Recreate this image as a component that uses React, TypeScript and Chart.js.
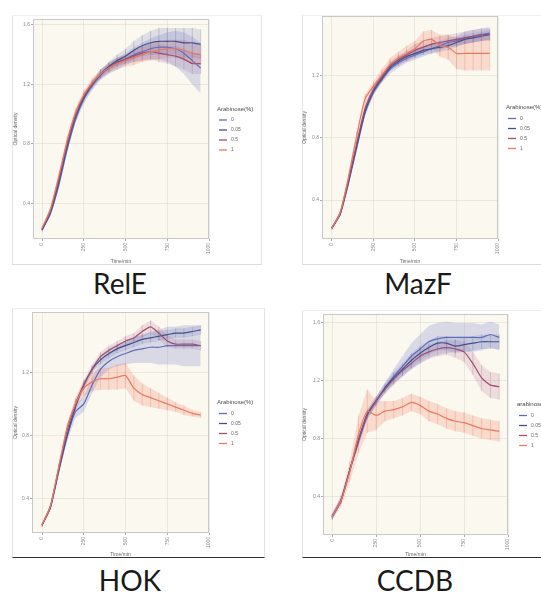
import React, { useEffect, useRef } from "react";
import { Chart, registerables } from "chart.js";
Chart.register(...registerables);

const TIME = [0, 50, 100, 150, 200, 250, 300, 350, 400, 450, 500, 550, 600, 650, 700, 750, 800, 850, 900, 950];
const X_TICKS = [0, 250, 500, 750, 1000];
const Y_TICKS = [0.4, 0.8, 1.2, 1.6];
const LEVELS = ["0", "0.05", "0.5", "1"];
const LINE_COLORS = ["#5f6db8", "#434f8a", "#a04d70", "#e8795f"];
const BAND_COLORS = ["rgba(110,122,200,0.24)", "rgba(95,105,170,0.18)", "rgba(170,95,135,0.18)", "rgba(242,135,112,0.26)"];
const BAR_COLORS = ["rgba(95,109,184,0.35)", "rgba(67,79,138,0.3)", "rgba(160,77,112,0.3)", "rgba(232,121,95,0.4)"];

// RelE
const RELE_0 = [0.22, 0.33, 0.52, 0.76, 0.96, 1.10, 1.19, 1.26, 1.31, 1.34, 1.37, 1.40, 1.42, 1.44, 1.45, 1.45, 1.44, 1.41, 1.36, 1.31];
const RELE_005 = [0.22, 0.34, 0.54, 0.78, 0.98, 1.11, 1.20, 1.27, 1.32, 1.36, 1.39, 1.43, 1.46, 1.48, 1.49, 1.49, 1.49, 1.48, 1.48, 1.47];
const RELE_05 = [0.23, 0.35, 0.56, 0.80, 0.99, 1.12, 1.20, 1.27, 1.31, 1.35, 1.37, 1.39, 1.41, 1.42, 1.41, 1.40, 1.39, 1.37, 1.34, 1.34];
const RELE_1 = [0.23, 0.36, 0.58, 0.82, 1.01, 1.13, 1.21, 1.27, 1.31, 1.34, 1.36, 1.38, 1.40, 1.42, 1.43, 1.44, 1.44, 1.43, 1.41, 1.40];
const RELE_0_ERR = [0.01, 0.02, 0.02, 0.02, 0.02, 0.03, 0.03, 0.03, 0.04, 0.04, 0.04, 0.05, 0.06, 0.07, 0.08, 0.10, 0.12, 0.14, 0.16, 0.17];
const RELE_005_ERR = [0.01, 0.01, 0.02, 0.02, 0.02, 0.03, 0.03, 0.03, 0.03, 0.04, 0.05, 0.06, 0.07, 0.08, 0.09, 0.09, 0.09, 0.10, 0.10, 0.10];
const RELE_05_ERR = [0.01, 0.01, 0.02, 0.02, 0.02, 0.02, 0.02, 0.03, 0.03, 0.03, 0.03, 0.04, 0.05, 0.05, 0.06, 0.06, 0.07, 0.07, 0.07, 0.07];
const RELE_1_ERR = [0.01, 0.01, 0.02, 0.03, 0.03, 0.03, 0.03, 0.03, 0.03, 0.04, 0.04, 0.05, 0.05, 0.06, 0.06, 0.06, 0.06, 0.07, 0.07, 0.07];

// MazF
const MAZF_0 = [0.22, 0.31, 0.51, 0.74, 0.96, 1.09, 1.17, 1.24, 1.28, 1.31, 1.33, 1.35, 1.37, 1.39, 1.41, 1.42, 1.44, 1.45, 1.46, 1.47];
const MAZF_005 = [0.22, 0.31, 0.52, 0.75, 0.97, 1.10, 1.18, 1.25, 1.29, 1.32, 1.34, 1.36, 1.37, 1.38, 1.39, 1.41, 1.43, 1.44, 1.45, 1.46];
const MAZF_05 = [0.22, 0.32, 0.53, 0.77, 0.99, 1.11, 1.19, 1.26, 1.30, 1.33, 1.36, 1.38, 1.40, 1.41, 1.42, 1.43, 1.44, 1.45, 1.46, 1.46];
const MAZF_1 = [0.22, 0.32, 0.55, 0.82, 1.05, 1.13, 1.20, 1.27, 1.31, 1.34, 1.37, 1.42, 1.43, 1.39, 1.38, 1.34, 1.34, 1.34, 1.34, 1.34];
const MAZF_0_ERR = [0.01, 0.01, 0.02, 0.02, 0.02, 0.02, 0.02, 0.03, 0.03, 0.03, 0.03, 0.03, 0.03, 0.03, 0.03, 0.03, 0.04, 0.04, 0.04, 0.04];
const MAZF_005_ERR = [0.01, 0.01, 0.02, 0.02, 0.02, 0.02, 0.02, 0.02, 0.03, 0.03, 0.03, 0.03, 0.03, 0.03, 0.03, 0.03, 0.03, 0.03, 0.03, 0.03];
const MAZF_05_ERR = [0.01, 0.01, 0.02, 0.02, 0.02, 0.03, 0.03, 0.03, 0.03, 0.03, 0.04, 0.04, 0.04, 0.04, 0.04, 0.04, 0.04, 0.04, 0.04, 0.04];
const MAZF_1_ERR = [0.01, 0.01, 0.02, 0.02, 0.03, 0.03, 0.04, 0.04, 0.04, 0.05, 0.05, 0.06, 0.06, 0.07, 0.08, 0.10, 0.11, 0.11, 0.11, 0.11];

// HOK
const HOK_0 = [0.23, 0.34, 0.57, 0.79, 0.95, 1.00, 1.12, 1.22, 1.27, 1.30, 1.32, 1.34, 1.35, 1.36, 1.36, 1.37, 1.37, 1.37, 1.37, 1.37];
const HOK_005 = [0.23, 0.34, 0.58, 0.80, 0.98, 1.12, 1.22, 1.28, 1.32, 1.35, 1.37, 1.39, 1.41, 1.42, 1.43, 1.44, 1.45, 1.45, 1.46, 1.47];
const HOK_05 = [0.23, 0.35, 0.59, 0.83, 1.00, 1.12, 1.22, 1.30, 1.34, 1.37, 1.40, 1.42, 1.46, 1.49, 1.45, 1.40, 1.38, 1.38, 1.38, 1.37];
const HOK_1 = [0.23, 0.35, 0.60, 0.85, 1.00, 1.10, 1.14, 1.16, 1.16, 1.17, 1.18, 1.10, 1.06, 1.04, 1.02, 1.00, 0.98, 0.96, 0.94, 0.93];
const HOK_0_ERR = [0.01, 0.01, 0.02, 0.03, 0.04, 0.05, 0.05, 0.05, 0.05, 0.06, 0.07, 0.08, 0.09, 0.10, 0.11, 0.12, 0.12, 0.13, 0.13, 0.13];
const HOK_005_ERR = [0.01, 0.01, 0.02, 0.02, 0.02, 0.02, 0.02, 0.03, 0.03, 0.03, 0.03, 0.03, 0.03, 0.03, 0.03, 0.03, 0.03, 0.03, 0.03, 0.03];
const HOK_05_ERR = [0.01, 0.01, 0.02, 0.02, 0.03, 0.03, 0.03, 0.03, 0.03, 0.03, 0.03, 0.03, 0.04, 0.04, 0.04, 0.04, 0.03, 0.03, 0.03, 0.03];
const HOK_1_ERR = [0.01, 0.01, 0.02, 0.03, 0.04, 0.05, 0.06, 0.07, 0.07, 0.08, 0.08, 0.08, 0.07, 0.06, 0.05, 0.04, 0.03, 0.03, 0.02, 0.02];

// CCDB
const CCDB_0 = [0.26, 0.37, 0.58, 0.78, 0.96, 1.06, 1.15, 1.23, 1.30, 1.37, 1.42, 1.47, 1.49, 1.50, 1.50, 1.50, 1.50, 1.50, 1.52, 1.50];
const CCDB_005 = [0.26, 0.37, 0.58, 0.79, 0.97, 1.06, 1.15, 1.22, 1.28, 1.34, 1.39, 1.43, 1.46, 1.46, 1.44, 1.45, 1.46, 1.47, 1.47, 1.47];
const CCDB_05 = [0.26, 0.37, 0.58, 0.79, 0.97, 1.06, 1.14, 1.21, 1.27, 1.32, 1.37, 1.40, 1.42, 1.43, 1.42, 1.40, 1.32, 1.22, 1.17, 1.16];
const CCDB_1 = [0.26, 0.37, 0.57, 0.83, 0.99, 0.96, 0.99, 1.00, 1.02, 1.05, 1.03, 0.99, 0.97, 0.94, 0.92, 0.91, 0.89, 0.87, 0.86, 0.85];
const CCDB_0_ERR = [0.02, 0.02, 0.02, 0.03, 0.03, 0.03, 0.04, 0.05, 0.07, 0.09, 0.10, 0.11, 0.11, 0.11, 0.10, 0.10, 0.10, 0.09, 0.09, 0.09];
const CCDB_005_ERR = [0.02, 0.02, 0.02, 0.03, 0.03, 0.03, 0.03, 0.04, 0.04, 0.05, 0.05, 0.05, 0.05, 0.05, 0.05, 0.05, 0.05, 0.05, 0.05, 0.05];
const CCDB_05_ERR = [0.02, 0.02, 0.02, 0.03, 0.03, 0.03, 0.03, 0.04, 0.04, 0.04, 0.05, 0.05, 0.05, 0.05, 0.06, 0.07, 0.08, 0.09, 0.09, 0.09];
const CCDB_1_ERR = [0.02, 0.04, 0.07, 0.13, 0.15, 0.10, 0.07, 0.06, 0.06, 0.06, 0.06, 0.07, 0.07, 0.07, 0.07, 0.07, 0.07, 0.07, 0.07, 0.07];

type PanelSpec = {
  name: string;
  legendTitle: string;
  values: number[][];
  errors: number[][];
  xMin: number;
  yMin: number;
  yMax: number;
  box: { left: number; top: number; width: number; height: number };
  area: { left: number; top: number; right: number; bottom: number };
  frame: { left: number; top: number; width: number; height: number; bottomDark: boolean };
  titlePos: { x: number; y: number };
};

const PANELS: PanelSpec[] = [
  {
    name: "RelE", legendTitle: "Arabinose(%)",
    values: [RELE_0, RELE_005, RELE_05, RELE_1], errors: [RELE_0_ERR, RELE_005_ERR, RELE_05_ERR, RELE_1_ERR],
    xMin: -54, yMin: 0.16, yMax: 1.64,
    box: { left: 13, top: 15, width: 249, height: 250 },
    area: { left: 33, top: 17, right: 209, bottom: 239 },
    frame: { left: 12, top: 15, width: 250, height: 250, bottomDark: false },
    titlePos: { x: 120, y: 283 },
  },
  {
    name: "MazF", legendTitle: "Arabinose(%)",
    values: [MAZF_0, MAZF_005, MAZF_05, MAZF_1], errors: [MAZF_0_ERR, MAZF_005_ERR, MAZF_05_ERR, MAZF_1_ERR],
    xMin: -60, yMin: 0.15, yMax: 1.58,
    box: { left: 302, top: 12, width: 270, height: 253 },
    area: { left: 322, top: 14, right: 498, bottom: 239 },
    frame: { left: 302, top: 15, width: 260, height: 250, bottomDark: false },
    titlePos: { x: 418, y: 283 },
  },
  {
    name: "HOK", legendTitle: "Arabinose(%)",
    values: [HOK_0, HOK_005, HOK_05, HOK_1], errors: [HOK_0_ERR, HOK_005_ERR, HOK_05_ERR, HOK_1_ERR],
    xMin: -60, yMin: 0.18, yMax: 1.584,
    box: { left: 13, top: 308, width: 252, height: 250 },
    area: { left: 32, top: 310, right: 209, bottom: 533 },
    frame: { left: 12, top: 308, width: 253, height: 250, bottomDark: true },
    titlePos: { x: 130, y: 580 },
  },
  {
    name: "CCDB", legendTitle: "arabinose(%)",
    values: [CCDB_0, CCDB_005, CCDB_05, CCDB_1], errors: [CCDB_0_ERR, CCDB_005_ERR, CCDB_05_ERR, CCDB_1_ERR],
    xMin: -52, yMin: 0.133, yMax: 1.662,
    box: { left: 302, top: 310, width: 270, height: 248 },
    area: { left: 323, top: 312, right: 508, bottom: 535 },
    frame: { left: 302, top: 310, width: 260, height: 248, bottomDark: true },
    titlePos: { x: 415, y: 580 },
  },
];

const FONT_FAMILY = "'Liberation Sans', Arial, sans-serif";
const SMALL_FONT = { size: 5, family: FONT_FAMILY };

const plotFrame = {
  id: "plotFrame",
  beforeDraw(chart: any) {
    const { ctx, chartArea: a } = chart;
    ctx.save();
    ctx.fillStyle = "#fbf8ef";
    ctx.fillRect(a.left, a.top, a.right - a.left, a.bottom - a.top);
    ctx.restore();
  },
  afterDraw(chart: any) {
    const { ctx, chartArea: a } = chart;
    ctx.save();
    ctx.strokeStyle = "#c9c9c9";
    ctx.lineWidth = 1;
    ctx.strokeRect(a.left + 0.5, a.top + 0.5, a.right - a.left - 1, a.bottom - a.top - 1);
    ctx.restore();
  },
};

// vertical error bars between each band's upper and lower dataset, placed by the scales
const errorBars = {
  id: "errorBars",
  beforeDatasetsDraw(chart: any) {
    const { ctx, chartArea: a } = chart;
    const xs = chart.scales.x;
    const ys = chart.scales.y;
    ctx.save();
    ctx.beginPath();
    ctx.rect(a.left, a.top, a.right - a.left, a.bottom - a.top);
    ctx.clip();
    chart.data.datasets.forEach((d: any) => {
      if (!d.barPair) return;
      const upper = chart.data.datasets[d.barPair];
      ctx.strokeStyle = d.barColor;
      ctx.lineWidth = 0.8;
      d.data.forEach((p: any, i: number) => {
        const x = xs.getPixelForValue(p.x);
        ctx.beginPath();
        ctx.moveTo(x, ys.getPixelForValue(p.y));
        ctx.lineTo(x, ys.getPixelForValue(upper.data[i].y));
        ctx.stroke();
      });
    });
    ctx.restore();
  },
};

// ggplot-like legend placed just to the right of the plot panel
const sideLegend = {
  id: "sideLegend",
  afterDraw(chart: any, _args: any, opts: any) {
    const { ctx, chartArea: a } = chart;
    const x0 = a.right + (opts.gap || 8);
    const cy = (a.top + a.bottom) / 2;
    ctx.save();
    ctx.textBaseline = "middle";
    ctx.textAlign = "left";
    ctx.fillStyle = "#4a4a4a";
    ctx.font = `6px ${FONT_FAMILY}`;
    ctx.fillText(opts.title, x0, cy - 20);
    ctx.font = `5px ${FONT_FAMILY}`;
    const items = chart.data.datasets.filter((d: any) => d.label);
    items.forEach((d: any, i: number) => {
      const y = cy - 9 + i * 10;
      ctx.strokeStyle = d.borderColor;
      ctx.lineWidth = 1.3;
      ctx.beginPath();
      ctx.moveTo(x0 + 2, y);
      ctx.lineTo(x0 + 10, y);
      ctx.stroke();
      ctx.fillStyle = "#666";
      ctx.fillText(d.label, x0 + 14, y);
    });
    ctx.restore();
  },
};

function Panel({ spec }: { spec: PanelSpec }) {
  const ref = useRef<HTMLCanvasElement | null>(null);
  useEffect(() => {
    if (!ref.current) return;
    const { box, area } = spec;
    const datasets: any[] = [];
    spec.values.forEach((vals, k) => {
      const errs = spec.errors[k];
      const upperIndex = datasets.length;
      datasets.push({
        label: "",
        data: TIME.map((t, i) => ({ x: t, y: vals[i] + errs[i] })),
        borderWidth: 0, pointRadius: 0, fill: false, order: 10,
        borderColor: "rgba(0,0,0,0)", backgroundColor: BAND_COLORS[k],
      });
      datasets.push({
        label: "",
        data: TIME.map((t, i) => ({ x: t, y: vals[i] - errs[i] })),
        borderWidth: 0, pointRadius: 0, fill: "-1", order: 10,
        borderColor: "rgba(0,0,0,0)", backgroundColor: BAND_COLORS[k],
        barPair: upperIndex, barColor: BAR_COLORS[k],
      });
    });
    spec.values.forEach((vals, k) => {
      datasets.push({
        label: LEVELS[k],
        data: TIME.map((t, i) => ({ x: t, y: vals[i] })),
        borderColor: LINE_COLORS[k], backgroundColor: LINE_COLORS[k],
        borderWidth: 1.2, pointRadius: 0, fill: false, order: 4 - k, tension: 0.2,
      });
    });
    const yAxisW = area.left - box.left;
    const xAxisH = box.top + box.height - area.bottom;
    const chart = new Chart(ref.current, {
      type: "line",
      data: { datasets },
      plugins: [plotFrame, errorBars, sideLegend],
      options: {
        animation: false,
        responsive: false,
        events: [],
        layout: {
          padding: { top: area.top - box.top, right: box.left + box.width - area.right, bottom: 0, left: 0 },
        },
        plugins: {
          tooltip: { enabled: false },
          legend: { display: false },
          sideLegend: { title: spec.legendTitle, gap: area.right - area.left > 180 ? 9 : 8 },
        },
        scales: {
          x: {
            type: "linear", min: spec.xMin, max: 1000,
            afterBuildTicks: (s: any) => { s.ticks = X_TICKS.map((v) => ({ value: v })); },
            afterFit: (s: any) => { s.height = xAxisH; },
            ticks: { minRotation: 90, maxRotation: 90, autoSkip: false, color: "#888", font: SMALL_FONT, padding: 2, callback: (v: any) => String(v) },
            grid: { color: "rgba(215,210,198,0.45)", tickLength: 2, tickColor: "#aaa" },
            border: { display: false },
            title: { display: true, text: "Time/min", color: "#666", font: SMALL_FONT, padding: { top: 0, bottom: 0 } },
          },
          y: {
            type: "linear", min: spec.yMin, max: spec.yMax,
            afterBuildTicks: (s: any) => { s.ticks = Y_TICKS.filter((v) => v >= spec.yMin && v <= spec.yMax).map((v) => ({ value: v })); },
            afterFit: (s: any) => { s.width = yAxisW; },
            ticks: { color: "#888", font: SMALL_FONT, padding: 1, callback: (v: any) => Number(v).toFixed(1) },
            grid: { color: "rgba(215,210,198,0.45)", tickLength: 2, tickColor: "#aaa" },
            border: { display: false },
            title: { display: true, text: "Optical density", color: "#666", font: SMALL_FONT, padding: { top: 0, bottom: 1 } },
          },
        },
      } as any,
    });
    return () => chart.destroy();
  }, [spec]);
  const { box, frame, titlePos } = spec;
  return (
    <>
      <div
        style={{
          position: "absolute", left: frame.left, top: frame.top, width: frame.width, height: frame.height,
          borderLeft: "1px solid #e3e3e3", borderTop: "1px solid #eeeeee", borderRight: "1px solid #e3e3e3",
          borderBottom: frame.bottomDark ? "1.5px solid #333" : "1px solid #dddddd", boxSizing: "border-box",
        }}
      />
      <canvas ref={ref} width={box.width} height={box.height}
        style={{ position: "absolute", left: box.left, top: box.top, width: box.width, height: box.height }} />
      <div
        style={{
          position: "absolute", left: titlePos.x - 60, top: titlePos.y - 18, width: 120, textAlign: "center",
          fontFamily: "Lato, 'Open Sans', sans-serif", fontSize: 28, lineHeight: "36px", color: "#1a1a1a",
        }}
      >
        {spec.name}
      </div>
    </>
  );
}

export default function App() {
  return (
    <div style={{ position: "fixed", left: 0, top: 0, width: 541, height: 599, overflow: "hidden", background: "#fff" }}>
      {PANELS.map((p) => (
        <Panel key={p.name} spec={p} />
      ))}
    </div>
  );
}
